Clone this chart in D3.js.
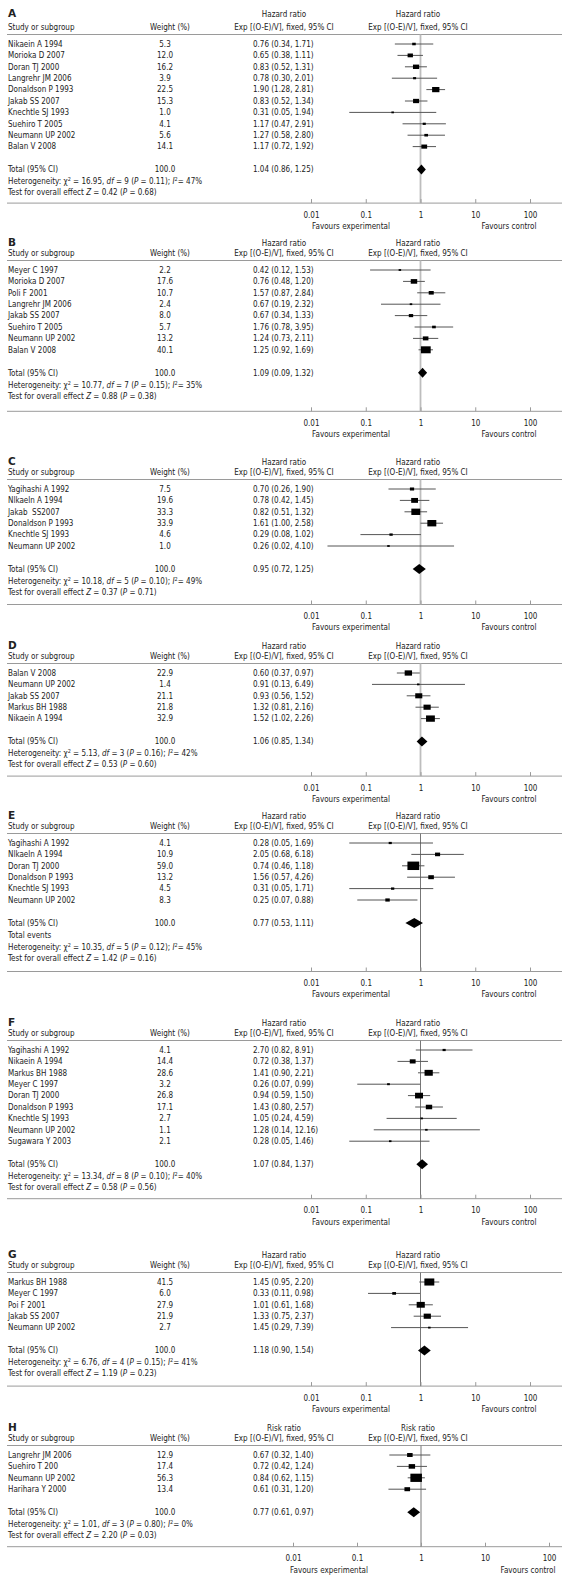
<!DOCTYPE html>
<html><head><meta charset="utf-8">
<script src="https://cdn.jsdelivr.net/npm/d3@7"></script>
<style>
body{margin:0;background:#fff}
svg text{font-family:"DejaVu Sans Condensed","DejaVu Sans",sans-serif;font-size:8px;fill:#222}
</style></head><body><svg id="c" width="567" height="1592"></svg>
<script>
// ---------------- DATA ----------------
const tickValues = [0.01, 0.1, 1, 10, 100];
const tickLabels = ["0.01", "0.1", "1", "10", "100"];

const studiesA = ["Nikaein A 1994","Morioka D 2007","Doran TJ 2000","Langrehr JM 2006","Donaldson P 1993","Jakab SS 2007","Knechtle SJ 1993","Suehiro T 2005","Neumann UP 2002","Balan V 2008"];
const weightsA = [5.3,12.0,16.2,3.9,22.5,15.3,1.0,4.1,5.6,14.1];
const estA = [[0.76,0.34,1.71],[0.65,0.38,1.11],[0.83,0.52,1.31],[0.78,0.30,2.01],[1.90,1.28,2.81],[0.83,0.52,1.34],[0.31,0.05,1.94],[1.17,0.47,2.91],[1.27,0.58,2.80],[1.17,0.72,1.92]];
const totalA = [1.04,0.86,1.25];
const totalTextA = "1.04 (0.86, 1.25)";
const hetA = ["16.95","9","0.11","47"];
const testA = ["0.42","0.68"];

const studiesB = ["Meyer C 1997","Morioka D 2007","Poli F 2001","Langrehr JM 2006","Jakab SS 2007","Suehiro T 2005","Neumann UP 2002","Balan V 2008"];
const weightsB = [2.2,17.6,10.7,2.4,8.0,5.7,13.2,40.1];
const estB = [[0.42,0.12,1.53],[0.76,0.48,1.20],[1.57,0.87,2.84],[0.67,0.19,2.32],[0.67,0.34,1.33],[1.76,0.78,3.95],[1.24,0.73,2.11],[1.25,0.92,1.69]];
const totalB = [1.09,0.90,1.32];
const totalTextB = "1.09 (0.09, 1.32)";
const hetB = ["10.77","7","0.15","35"];
const testB = ["0.88","0.38"];

const studiesC = ["Yagihashi A 1992","Nlkaeln A 1994","Jakab  SS2007","Donaldson P 1993","Knechtle SJ 1993","Neumann UP 2002"];
const weightsC = [7.5,19.6,33.3,33.9,4.6,1.0];
const estC = [[0.70,0.26,1.90],[0.78,0.42,1.45],[0.82,0.51,1.32],[1.61,1.00,2.58],[0.29,0.08,1.02],[0.26,0.02,4.10]];
const totalC = [0.95,0.72,1.25];
const totalTextC = "0.95 (0.72, 1.25)";
const hetC = ["10.18","5","0.10","49"];
const testC = ["0.37","0.71"];

const studiesD = ["Balan V 2008","Neumann UP 2002","Jakab SS 2007","Markus BH 1988","Nikaein A 1994"];
const weightsD = [22.9,1.4,21.1,21.8,32.9];
const estD = [[0.60,0.37,0.97],[0.91,0.13,6.49],[0.93,0.56,1.52],[1.32,0.81,2.16],[1.52,1.02,2.26]];
const totalD = [1.06,0.85,1.34];
const totalTextD = "1.06 (0.85, 1.34)";
const hetD = ["5.13","3","0.16","42"];
const testD = ["0.53","0.60"];

const studiesE = ["Yagihashi A 1992","Nlkaeln A 1994","Doran TJ 2000","Donaldson P 1993","Knechtle SJ 1993","Neumann UP 2002"];
const weightsE = [4.1,10.9,59.0,13.2,4.5,8.3];
const estE = [[0.28,0.05,1.69],[2.05,0.68,6.18],[0.74,0.46,1.18],[1.56,0.57,4.26],[0.31,0.05,1.71],[0.25,0.07,0.88]];
const totalE = [0.77,0.53,1.11];
const totalTextE = "0.77 (0.53, 1.11)";
const hetE = ["10.35","5","0.12","45"];
const testE = ["1.42","0.16"];

const studiesF = ["Yagihashi A 1992","Nikaein A 1994","Markus BH 1988","Meyer C 1997","Doran TJ 2000","Donaldson P 1993","Knechtle SJ 1993","Neumann UP 2002","Sugawara Y 2003"];
const weightsF = [4.1,14.4,28.6,3.2,26.8,17.1,2.7,1.1,2.1];
const estF = [[2.70,0.82,8.91],[0.72,0.38,1.37],[1.41,0.90,2.21],[0.26,0.07,0.99],[0.94,0.59,1.50],[1.43,0.80,2.57],[1.05,0.24,4.59],[1.28,0.14,12.16],[0.28,0.05,1.46]];
const totalF = [1.07,0.84,1.37];
const totalTextF = "1.07 (0.84, 1.37)";
const hetF = ["13.34","8","0.10","40"];
const testF = ["0.58","0.56"];

const studiesG = ["Markus BH 1988","Meyer C 1997","Poi F 2001","Jakab SS 2007","Neumann UP 2002"];
const weightsG = [41.5,6.0,27.9,21.9,2.7];
const estG = [[1.45,0.95,2.20],[0.33,0.11,0.98],[1.01,0.61,1.68],[1.33,0.75,2.37],[1.45,0.29,7.39]];
const totalG = [1.18,0.90,1.54];
const totalTextG = "1.18 (0.90, 1.54)";
const hetG = ["6.76","4","0.15","41"];
const testG = ["1.19","0.23"];

const studiesH = ["Langrehr JM 2006","Suehiro T 200","Neumann UP 2002","Harihara Y 2000"];
const weightsH = [12.9,17.4,56.3,13.4];
const estH = [[0.67,0.32,1.40],[0.72,0.42,1.24],[0.84,0.62,1.15],[0.61,0.31,1.20]];
const totalH = [0.77,0.61,0.97];
const totalTextH = "0.77 (0.61, 0.97)";
const hetH = ["1.01","3","0.80","0"];
const testH = ["2.20","0.03"];

const panels = [
  {id:"A", measure:"Hazard ratio", studies:studiesA, weights:weightsA, est:estA, total:totalA, totalText:totalTextA, het:hetA, test:testA},
  {id:"B", measure:"Hazard ratio", studies:studiesB, weights:weightsB, est:estB, total:totalB, totalText:totalTextB, het:hetB, test:testB},
  {id:"C", measure:"Hazard ratio", studies:studiesC, weights:weightsC, est:estC, total:totalC, totalText:totalTextC, het:hetC, test:testC},
  {id:"D", measure:"Hazard ratio", studies:studiesD, weights:weightsD, est:estD, total:totalD, totalText:totalTextD, het:hetD, test:testD},
  {id:"E", measure:"Hazard ratio", studies:studiesE, weights:weightsE, est:estE, total:totalE, totalText:totalTextE, het:hetE, test:testE, totalEvents:true},
  {id:"F", measure:"Hazard ratio", studies:studiesF, weights:weightsF, est:estF, total:totalF, totalText:totalTextF, het:hetF, test:testF},
  {id:"G", measure:"Hazard ratio", studies:studiesG, weights:weightsG, est:estG, total:totalG, totalText:totalTextG, het:hetG, test:testG},
  {id:"H", measure:"Risk ratio", studies:studiesH, weights:weightsH, est:estH, total:totalH, totalText:totalTextH, het:hetH, test:testH}
];

// ---------------- LAYOUT ----------------
const layout = {
  A:{row0:44,   labelOff:31, axisGap:10.5, range:[311,530], refStyle:"light", favL:351, favR:509},
  B:{row0:270,  labelOff:28, axisGap:15.5, range:[311,530], refStyle:"light", favL:351, favR:509},
  C:{row0:489,  labelOff:28, axisGap:12.5, range:[311,530], refStyle:"light", favL:351, favR:509},
  D:{row0:673,  labelOff:28, axisGap:11.5, range:[311,530], refStyle:"light", favL:351, favR:509},
  E:{row0:843,  labelOff:28, axisGap:13.5, range:[311,530], refStyle:"dark",  favL:351, favR:509},
  F:{row0:1050, labelOff:28, axisGap:11.5, range:[311,530], refStyle:"dark",  favL:351, favR:509},
  G:{row0:1282, labelOff:28, axisGap:12.5, range:[311,530], refStyle:"dark",  favL:351, favR:509},
  H:{row0:1455, labelOff:28, axisGap:11.5, range:[293,549], refStyle:"dark",  favL:329, favR:528}
};
const ROW = 11.4;
const xStudy = 8, xWeight = 165, xHRtext = 253, xHRhead = 284, xPlotHead = 418;
const lineL = 7, lineR = 562;

const svg = d3.select("#c");
svg.append("rect").attr("width",567).attr("height",1592).attr("fill","#fff");

function txt(g, x, y, s, anchor){
  return g.append("text").attr("x",x).attr("y",y).attr("dy","0.35em")
    .attr("text-anchor",anchor||"start").text(s);
}

panels.forEach(p => {
  const L = layout[p.id];
  const g = svg.append("g");
  const x = d3.scaleLog().domain([0.01,100]).range(L.range);
  const r0 = L.row0;
  const labelY = r0 - L.labelOff;
  const headY = r0 - 17;
  const ruleY = r0 - 9.5;
  const rowY = i => r0 + i*ROW;
  const lastY = rowY(p.studies.length-1);
  const totalY = lastY + 23;
  let nextY = totalY + 12;
  const evY = p.totalEvents ? nextY : null;
  if (p.totalEvents) nextY += 12;
  const hetY = nextY;
  const testY = hetY + 11;
  const axisY = testY + L.axisGap;

  // panel letter + headers
  g.append("text").attr("x",xStudy).attr("y",labelY).attr("dy","0.35em")
    .style("font-family","'DejaVu Sans',sans-serif").style("font-weight","bold").style("font-size","10.5px").text(p.id);
  txt(g, xHRhead, labelY+1, p.measure, "middle");
  txt(g, xPlotHead, labelY+1, p.measure, "middle");
  txt(g, xStudy, headY, "Study or subgroup");
  txt(g, 170, headY, "Weight (%)", "middle");
  txt(g, xHRhead, headY, "Exp [(O-E)/V], fixed, 95% CI", "middle");
  txt(g, xPlotHead, headY, "Exp [(O-E)/V], fixed, 95% CI", "middle");

  // rules
  g.append("line").attr("x1",lineL).attr("x2",lineR).attr("y1",ruleY).attr("y2",ruleY)
    .attr("stroke","#9a9a9a").attr("stroke-width",1);
  g.append("line").attr("x1",lineL).attr("x2",lineR).attr("y1",axisY).attr("y2",axisY)
    .attr("stroke","#9a9a9a").attr("stroke-width",1);

  // reference line at 1
  g.append("line").attr("x1",x(1)).attr("x2",x(1)).attr("y1",ruleY).attr("y2",axisY)
    .attr("stroke", L.refStyle==="light" ? "#bdbdbd" : "#777")
    .attr("stroke-width", L.refStyle==="light" ? 1.8 : 1);

  // study rows
  p.studies.forEach((s,i) => {
    const yy = rowY(i);
    txt(g, xStudy, yy, s).style("white-space","pre").attr("xml:space","preserve");
    txt(g, xWeight, yy, p.weights[i].toFixed(1), "middle");
    const e = p.est[i];
    txt(g, xHRtext, yy, `${e[0].toFixed(2)} (${e[1].toFixed(2)}, ${e[2].toFixed(2)})`);
    g.append("line").attr("x1",x(e[1])).attr("x2",x(e[2])).attr("y1",yy).attr("y2",yy)
      .attr("stroke","#555").attr("stroke-width",1);
    const h = Math.max(1.8, 1.1*Math.sqrt(p.weights[i]));
    const w = h*1.4;
    g.append("rect").attr("x",x(e[0])-w/2).attr("y",yy-h/2).attr("width",w).attr("height",h).attr("fill","#000");
  });

  // total
  txt(g, xStudy, totalY, "Total (95% CI)");
  txt(g, xWeight, totalY, "100.0", "middle");
  txt(g, xHRtext, totalY, p.totalText);
  const t = p.total;
  g.append("path").attr("d", d3.line()([[x(t[1]),totalY],[x(t[0]),totalY-5],[x(t[2]),totalY],[x(t[0]),totalY+5]]) + "Z")
    .attr("fill","#000");
  if (p.totalEvents) txt(g, xStudy, evY, "Total events");

  // heterogeneity line
  const het = g.append("text").attr("x",xStudy).attr("y",hetY).attr("dy","0.35em");
  het.append("tspan").text("Heterogeneity: \u03c7");
  het.append("tspan").attr("dy",-3).style("font-size","5.5px").text("2");
  het.append("tspan").attr("dy",3).text(` = ${p.het[0]}, `);
  het.append("tspan").style("font-style","italic").text("df");
  het.append("tspan").text(` = ${p.het[1]} (`);
  het.append("tspan").style("font-style","italic").text("P");
  het.append("tspan").text(` = ${p.het[2]}); `);
  het.append("tspan").style("font-style","italic").text("I");
  het.append("tspan").attr("dy",-3).style("font-size","5.5px").text("2");
  het.append("tspan").attr("dy",3).text(`= ${p.het[3]}%`);

  const tst = g.append("text").attr("x",xStudy).attr("y",testY).attr("dy","0.35em");
  tst.append("tspan").text("Test for overall effect ");
  tst.append("tspan").style("font-style","italic").text("Z");
  tst.append("tspan").text(` = ${p.test[0]} (`);
  tst.append("tspan").style("font-style","italic").text("P");
  tst.append("tspan").text(` = ${p.test[1]})`);

  // axis
  const ax = d3.axisBottom(x).tickValues(tickValues).tickFormat((d,i)=>tickLabels[i])
    .tickSizeInner(-4).tickSizeOuter(0).tickPadding(9);
  const ag = g.append("g").attr("transform",`translate(0,${axisY})`).call(ax);
  ag.select(".domain").remove();
  ag.selectAll(".tick line").attr("stroke","#9a9a9a");
  ag.attr("font-family",null).attr("font-size",null);

  txt(g, L.favL, axisY+23, "Favours experimental", "middle");
  txt(g, L.favR, axisY+23, "Favours control", "middle");
});
</script></body></html>
